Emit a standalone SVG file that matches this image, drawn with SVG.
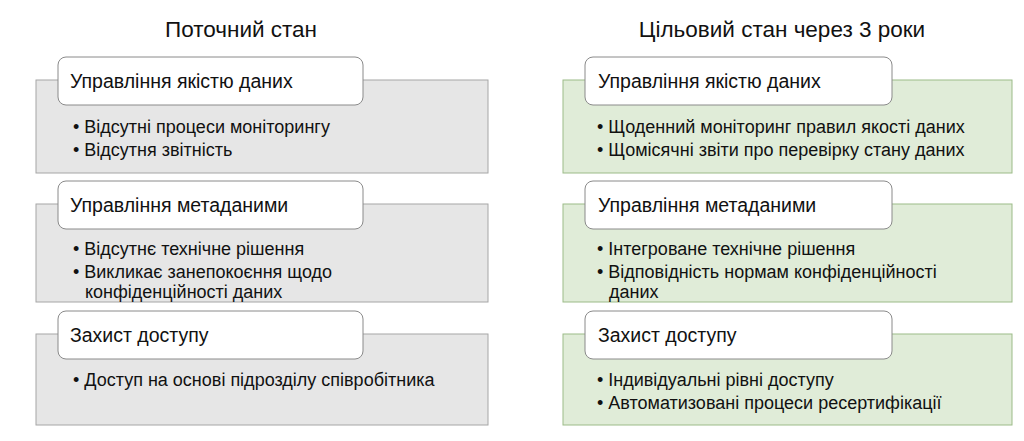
<svg xmlns="http://www.w3.org/2000/svg" width="1024" height="441" viewBox="0 0 1024 441">
<style>
text{font-family:"Liberation Sans",Arial,sans-serif;fill:#111}
.t{font-size:22.5px}
.h{font-size:19.5px}
.b{font-size:18px}
.g{fill:#e6e6e6;stroke:#a6a6a6;stroke-width:1}
.gr{fill:#e0ecd8;stroke:#9cbb88;stroke-width:1}
.tab{fill:#fff;stroke:#8a8a8a;stroke-width:1}
</style>
<rect width="1024" height="441" fill="#fff"/>
<text class="t" x="241" y="37" text-anchor="middle">Поточний стан</text>
<text class="t" x="782" y="37" text-anchor="middle">Цільовий стан через 3 роки</text>
<g id="left1"><rect class="g" x="36" y="80" width="452" height="93"/><rect class="tab" x="58" y="57" width="305" height="48" rx="8"/><text class="h" x="70" y="88">Управління якістю даних</text>
<text class="b" x="73" y="133">• Відсутні процеси моніторингу</text><text class="b" x="73" y="156">• Відсутня звітність</text></g>
<g id="left2"><rect class="g" x="36" y="204" width="452" height="98"/><rect class="tab" x="58" y="181" width="305" height="48" rx="8"/><text class="h" x="70" y="212">Управління метаданими</text>
<text class="b" x="73" y="255">• Відсутнє технічне рішення</text><text class="b" x="73" y="278">• Викликає занепокоєння щодо</text><text class="b" x="85" y="298">конфіденційності даних</text></g>
<g id="left3"><rect class="g" x="36" y="334" width="452" height="91"/><rect class="tab" x="58" y="311" width="305" height="48" rx="8"/><text class="h" x="70" y="342">Захист доступу</text>
<text class="b" x="73" y="386">• Доступ на основі підрозділу співробітника</text></g>
<g id="right1"><rect class="gr" x="563" y="80" width="449" height="93"/><rect class="tab" x="585" y="57" width="307" height="48" rx="8"/><text class="h" x="598" y="88">Управління якістю даних</text>
<text class="b" x="597" y="133">• Щоденний моніторинг правил якості даних</text><text class="b" x="597" y="156">• Щомісячні звіти про перевірку стану даних</text></g>
<g id="right2"><rect class="gr" x="563" y="204" width="449" height="98"/><rect class="tab" x="585" y="181" width="307" height="48" rx="8"/><text class="h" x="598" y="212">Управління метаданими</text>
<text class="b" x="597" y="255">• Інтегроване технічне рішення</text><text class="b" x="597" y="278">• Відповідність нормам конфіденційності</text><text class="b" x="609" y="298">даних</text></g>
<g id="right3"><rect class="gr" x="563" y="334" width="449" height="91"/><rect class="tab" x="585" y="311" width="307" height="48" rx="8"/><text class="h" x="598" y="342">Захист доступу</text>
<text class="b" x="597" y="386">• Індивідуальні рівні доступу</text><text class="b" x="597" y="409">• Автоматизовані процеси ресертифікації</text></g>
<g id="connectors"/>
</svg>
